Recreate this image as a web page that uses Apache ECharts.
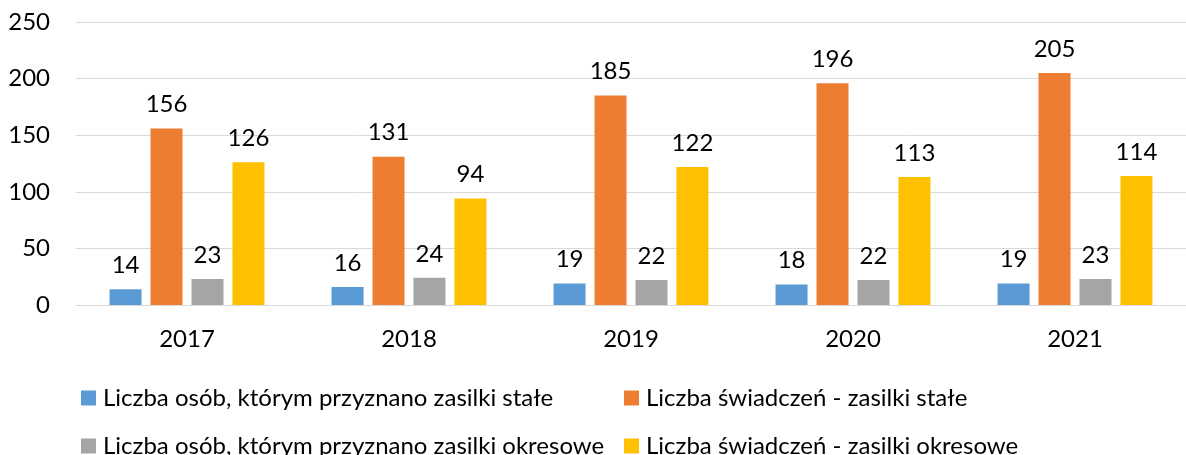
<!DOCTYPE html>
<html lang="pl">
<head>
<meta charset="utf-8">
<title>Zasiłki stałe i okresowe</title>
<script src="https://cdn.jsdelivr.net/npm/echarts@6/dist/echarts.min.js"></script>
<style>
html, body { margin: 0; padding: 0; background: #fff; }
#chart { width: 1186px; height: 455px; }
</style>
</head>
<body>
<div id="chart"></div>
<script>
// dane
var years = ['2017', '2018', '2019', '2020', '2021'];
var osobyStale = [14, 16, 19, 18, 19];
var swiadczeniaStale = [156, 131, 185, 196, 205];
var osobyOkresowe = [23, 24, 22, 22, 23];
var swiadczeniaOkresowe = [126, 94, 122, 113, 114];
var yTicks = [0, 50, 100, 150, 200, 250];

var names = [
  'Liczba osób, którym przyznano zasilki stałe',
  'Liczba świadczeń - zasilki stałe',
  'Liczba osób, którym przyznano zasilki okresowe',
  'Liczba świadczeń - zasilki okresowe'
];
var colors = ['#5B9BD5', '#ED7D31', '#A5A5A5', '#FFC000'];
var font = 'Lato, "Open Sans", sans-serif';

function bar(name, data, color) {
  return {
    name: name,
    type: 'bar',
    data: data,
    barWidth: 32,
    barGap: '28%',
    itemStyle: { color: color },
    label: {
      show: true,
      position: 'top',
      distance: 12,
      color: '#000',
      fontFamily: font,
      fontSize: 24
    }
  };
}

// legenda w dwóch kolumnach, jak w Excelu
function legendItem(name, left, top) {
  return {
    left: left, top: top,
    itemWidth: 15, itemHeight: 15, itemGap: 0,
    icon: 'rect',
    selectedMode: false,
    textStyle: { color: '#000', fontFamily: font, fontSize: 24, padding: [0, 0, 0, 2] },
    data: [name]
  };
}

var option = {
  animation: false,
  color: colors,
  grid: { left: 76, top: 22, width: 1122, height: 283, containLabel: false },
  legend: [
    legendItem(names[0], 76, 381),
    legendItem(names[1], 619, 381),
    legendItem(names[2], 76, 429),
    legendItem(names[3], 619, 429)
  ],
  xAxis: {
    type: 'category',
    data: years,
    axisLine: { lineStyle: { color: '#D9D9D9', width: 1 } },
    axisTick: { show: false },
    axisLabel: { color: '#000', fontFamily: font, fontSize: 24, margin: 22 }
  },
  yAxis: {
    type: 'value',
    min: yTicks[0],
    max: yTicks[yTicks.length - 1],
    interval: 50,
    axisLine: { show: false },
    axisTick: { show: false },
    splitLine: { lineStyle: { color: '#D9D9D9', width: 1 } },
    axisLabel: { color: '#000', fontFamily: font, fontSize: 24, margin: 26 }
  },
  series: [
    bar(names[0], osobyStale, colors[0]),
    bar(names[1], swiadczeniaStale, colors[1]),
    bar(names[2], osobyOkresowe, colors[2]),
    bar(names[3], swiadczeniaOkresowe, colors[3])
  ]
};

var chart = echarts.init(document.getElementById('chart'));
chart.setOption(option);
</script>
</body>
</html>
